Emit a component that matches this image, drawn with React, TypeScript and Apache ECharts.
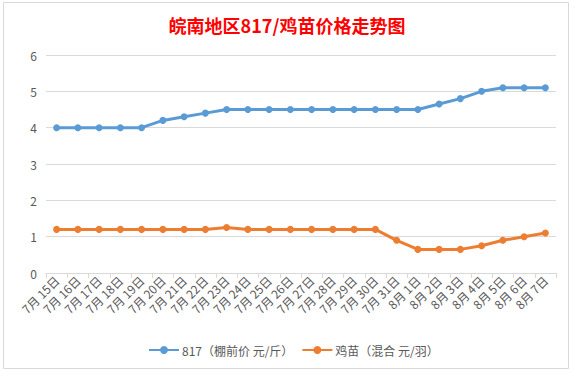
import React, { useEffect, useRef } from "react";
import * as echarts from "echarts";

const categories = [
  "7月 15日", "7月 16日", "7月 17日", "7月 18日", "7月 19日", "7月 20日",
  "7月 21日", "7月 22日", "7月 23日", "7月 24日", "7月 25日", "7月 26日",
  "7月 27日", "7月 28日", "7月 29日", "7月 30日", "7月 31日",
  "8月 1日", "8月 2日", "8月 3日", "8月 4日", "8月 5日", "8月 6日", "8月 7日",
];

const price817 = [
  4, 4, 4, 4, 4, 4.2, 4.3, 4.4, 4.5, 4.5, 4.5, 4.5, 4.5, 4.5, 4.5, 4.5, 4.5,
  4.5, 4.65, 4.8, 5.0, 5.1, 5.1, 5.1,
];

const chickPrice = [
  1.2, 1.2, 1.2, 1.2, 1.2, 1.2, 1.2, 1.2, 1.25, 1.2, 1.2, 1.2, 1.2, 1.2, 1.2,
  1.2, 0.9, 0.65, 0.65, 0.65, 0.75, 0.9, 1.0, 1.1,
];

const seriesNames = ["817（棚前价 元/斤）", "鸡苗（混合 元/羽）"];
const titleText = "皖南地区817/鸡苗价格走势图";

const FONT = "'Noto Sans CJK SC', 'Noto Sans', sans-serif";

export default function App() {
  const ref = useRef<HTMLDivElement>(null);

  useEffect(() => {
    if (!ref.current) return;
    const chart = echarts.init(ref.current, undefined, { renderer: "svg" });
    chart.setOption({
      animation: false,
      backgroundColor: "#ffffff",
      textStyle: { fontFamily: FONT },
      title: {
        text: titleText,
        left: "center",
        top: 11,
        textStyle: {
          color: "#FF0000",
          fontSize: 18,
          fontWeight: "bold",
          fontFamily: FONT,
        },
      },
      graphic: [
        {
          type: "rect",
          shape: { x: 3.5, y: 2.5, width: 565, height: 366 },
          style: { fill: "none", stroke: "#D9D9D9", lineWidth: 1 },
          silent: true,
        },
      ],
      legend: {
        top: 339,
        left: 143,
        itemWidth: 30,
        itemHeight: 10,
        itemGap: 8,
        textStyle: { color: "#595959", fontSize: 12, fontFamily: FONT, padding: [0, 0, 0, -2] },
        data: seriesNames,
      },
      grid: { left: 46, right: 18, top: 55, bottom: 100, containLabel: false },
      xAxis: {
        type: "category",
        data: categories,
        boundaryGap: true,
        axisLine: { lineStyle: { color: "#D9D9D9", width: 1 } },
        axisTick: { show: true, length: 5, lineStyle: { color: "#D9D9D9" } },
        axisLabel: {
          rotate: 45,
          interval: 0,
          margin: 5,
          color: "#595959",
          fontSize: 12,
          fontFamily: FONT,
        },
      },
      yAxis: {
        type: "value",
        min: 0,
        max: 6,
        interval: 1,
        axisLine: { show: false },
        axisTick: { show: false },
        axisLabel: { color: "#595959", fontSize: 12, margin: 9, fontFamily: FONT },
        splitLine: { lineStyle: { color: "#D9D9D9", width: 1 } },
      },
      series: [
        {
          name: seriesNames[0],
          type: "line",
          data: price817,
          symbol: "circle",
          symbolSize: 7,
          itemStyle: { color: "#5B9BD5" },
          lineStyle: { color: "#5B9BD5", width: 3 },
        },
        {
          name: seriesNames[1],
          type: "line",
          data: chickPrice,
          symbol: "circle",
          symbolSize: 7,
          itemStyle: { color: "#ED7D31" },
          lineStyle: { color: "#ED7D31", width: 3 },
        },
      ],
    });
    return () => chart.dispose();
  }, []);

  return (
    <div
      ref={ref}
      style={{ position: "fixed", left: 0, top: 0, width: 574, height: 373, background: "#fff" }}
    />
  );
}
